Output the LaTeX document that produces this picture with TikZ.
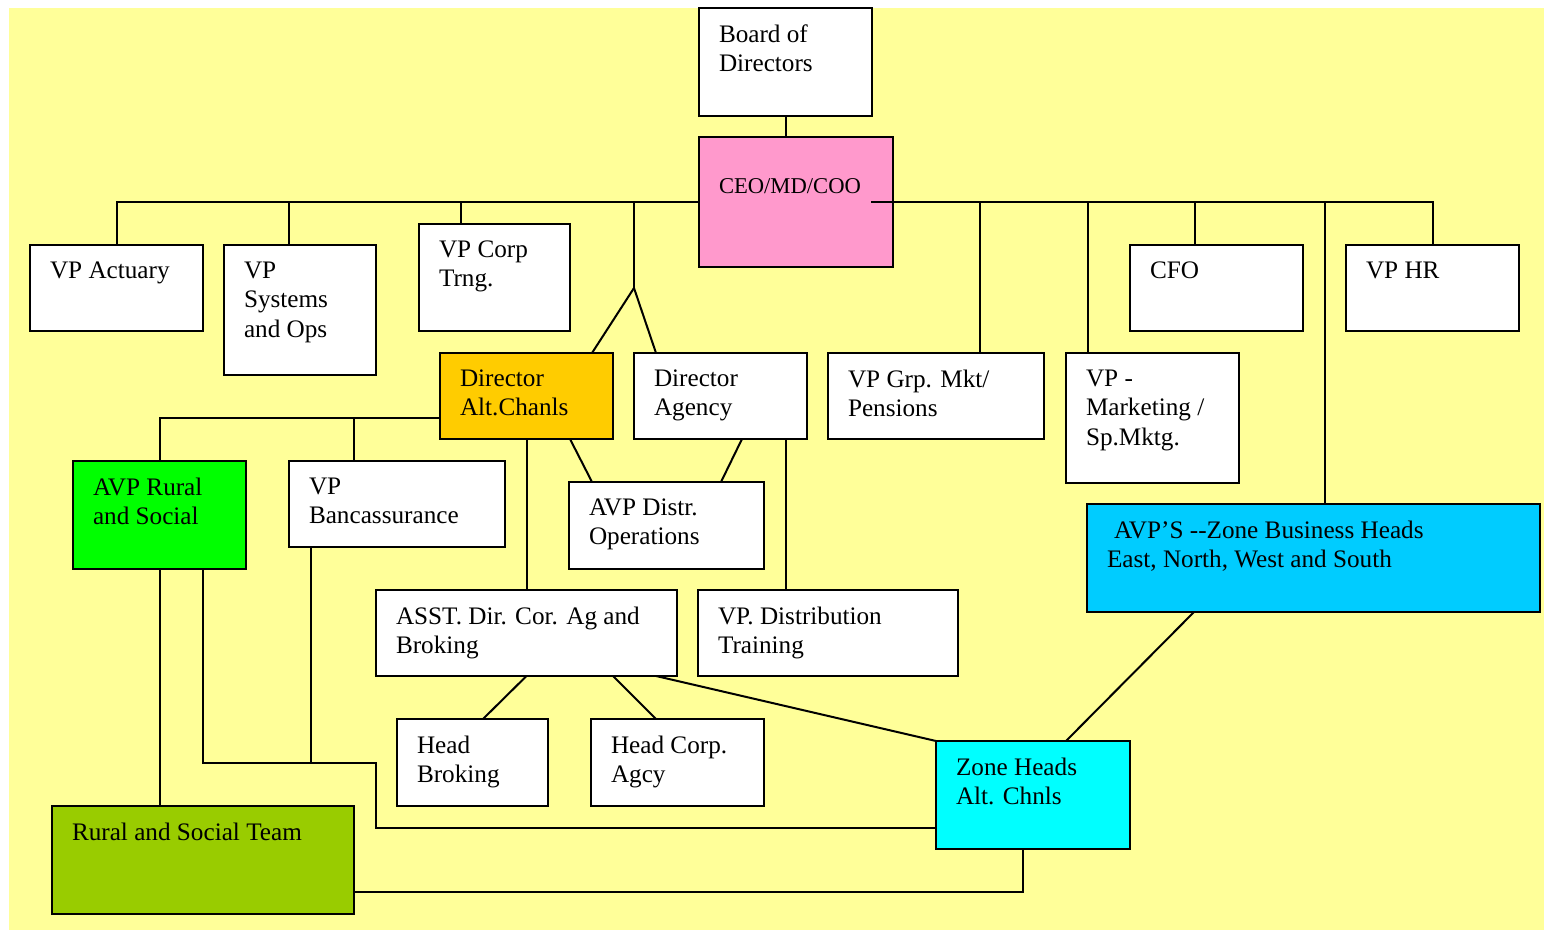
\documentclass[tikz,border=0pt]{standalone}
\usepackage{fontspec}
\setmainfont{Liberation Serif}
\definecolor{bgyellow}{HTML}{FFFF99}
\definecolor{ceopink}{HTML}{FF99CC}
\definecolor{altorange}{HTML}{FFCC00}
\definecolor{ruralgreen}{HTML}{00FF00}
\definecolor{zoneblue}{HTML}{00CCFF}
\definecolor{zonecyan}{HTML}{00FFFF}
\definecolor{teamolive}{HTML}{99CC00}

\begin{document}
\begin{tikzpicture}[x = 0.5pt, y = -0.5pt, line width = 1pt,
    box/.style = {draw, fill = white, anchor = north west, inner sep = 0pt, outer sep = 0pt},
    wh/.style 2 args = {minimum width = #1*0.5pt, minimum height = #2*0.5pt},
    txt/.style = {anchor = north west, inner sep = 0pt, align = left, xshift = 9.5pt, yshift = -7.8pt,
        font = \fontsize{12.6}{14.75}\selectfont}]
    \useasboundingbox (0,0) rectangle (1544,930);
    \fill[white] (0,0) rectangle (1544,930);
    \fill[bgyellow] (9,8) rectangle (1544,930);

    \node[box, wh = {173}{108}, label = {[txt]north west:{Board of\\Directors}}] (bod) at (699,8) {};
    \node[box, fill = ceopink, wh = {194}{130},
        label = {[txt, yshift = -12.5pt, font = \fontsize{11.3}{13.5}\selectfont]north west:{CEO/MD/COO}}] (ceo) at (699,137) {};
    \node[box, wh = {173}{86}, label = {[txt]north west:{VP Actuary}}] (act) at (30,245) {};
    \node[box, wh = {152}{130}, label = {[txt]north west:{VP\\Systems\\and Ops}}] (sys) at (224,245) {};
    \node[box, wh = {151}{107}, label = {[txt]north west:{VP Corp\\Trng.}}] (trng) at (419,224) {};
    \node[box, fill = altorange, wh = {173}{86}, label = {[txt]north west:{Director\\Alt.Chanls}}] (altch) at (440,353) {};
    \node[box, wh = {173}{86}, label = {[txt]north west:{Director\\Agency}}] (agency) at (634,353) {};
    \node[box, wh = {216}{86}, label = {[txt]north west:{VP Grp. Mkt/\\Pensions}}] (grp) at (828,353) {};
    \node[box, wh = {173}{130}, label = {[txt]north west:{VP -\\Marketing /\\Sp.Mktg.}}] (mktg) at (1066,353) {};
    \node[box, wh = {173}{86}, label = {[txt]north west:{CFO}}] (cfo) at (1130,245) {};
    \node[box, wh = {173}{86}, label = {[txt]north west:{VP HR}}] (hr) at (1346,245) {};
    \node[box, fill = zoneblue, wh = {453}{108},
        label = {[txt]north west:{\hspace*{3.5pt}AVP’S -{}-Zone Business Heads\\East, North, West and South}}] (zone) at (1087,504) {};
    \node[box, fill = ruralgreen, wh = {173}{108}, label = {[txt]north west:{AVP Rural\\and Social}}] (rural) at (73,461) {};
    \node[box, wh = {216}{86}, label = {[txt]north west:{VP\\Bancassurance}}] (banc) at (289,461) {};
    \node[box, wh = {195}{87}, label = {[txt]north west:{AVP Distr.\\Operations}}] (distr) at (569,482) {};
    \node[box, wh = {301}{86}, label = {[txt]north west:{ASST. Dir. Cor. Ag and\\Broking}}] (asst) at (376,590) {};
    \node[box, wh = {260}{86}, label = {[txt]north west:{VP. Distribution\\Training}}] (train) at (698,590) {};
    \node[box, wh = {151}{87}, label = {[txt]north west:{Head\\Broking}}] (broking) at (397,719) {};
    \node[box, wh = {173}{87}, label = {[txt]north west:{Head Corp.\\Agcy}}] (corp) at (591,719) {};
    \node[box, fill = zonecyan, wh = {194}{108}, label = {[txt]north west:{Zone Heads\\Alt. Chnls}}] (zoneh) at (936,741) {};
    \node[box, fill = teamolive, wh = {302}{108}, label = {[txt]north west:{Rural and Social Team}}] (team) at (52,806) {};

    \draw (bod.south) -- (bod.south |- ceo.north);
    \draw (act.north) |- (ceo.west);
    \draw (289,0 |- sys.north) -- (289,0 |- ceo.west);
    \draw (461,0 |- trng.north) -- (461,0 |- ceo.west);
    \coordinate (fork) at (634,288);
    \draw (fork) -- (fork |- ceo.west);
    \draw (fork) -- (592,0 |- altch.north);
    \draw (fork) -- (656,0 |- agency.north);
    \draw (871,0 |- ceo.west) -| (hr.north);
    \draw (980,0 |- grp.north) -- (980,0 |- ceo.west);
    \draw (1088,0 |- mktg.north) -- (1088,0 |- ceo.west);
    \draw (1195,0 |- cfo.north) -- (1195,0 |- ceo.west);
    \draw (1325,0 |- zone.north) -- (1325,0 |- ceo.west);

    \coordinate (jalt) at (354,418);
    \draw (altch.west |- jalt) -| (rural.north);
    \draw (jalt) -- (jalt |- banc.north);
    \draw (altch) -- (asst);
    \draw (570,0 |- altch.south) -- (592,0 |- distr.north);
    \draw (742,0 |- agency.south) -- (721,0 |- distr.north);
    \draw (785.5,0 |- agency.south) -- (785.5,0 |- train.north);
    \draw (asst.south) -- (483,0 |- broking.north);
    \draw (613,0 |- asst.south) -- (656,0 |- corp.north);
    \draw (656,0 |- asst.south) -- (zoneh.north west);
    \draw (1194,0 |- zone.south) -- (1066,0 |- zoneh.north);
    \draw (1023,0 |- zoneh.south) |- (team.east |- 0,892);
    \draw (rural.south) -- (rural.south |- team.north);
    \coordinate (jbanc) at (311,763);
    \draw (203,0 |- rural.south) |- (376,763) |- (zoneh.west |- 0,828);
    \draw (jbanc |- banc.south) -- (jbanc);
\end{tikzpicture}
\end{document}
